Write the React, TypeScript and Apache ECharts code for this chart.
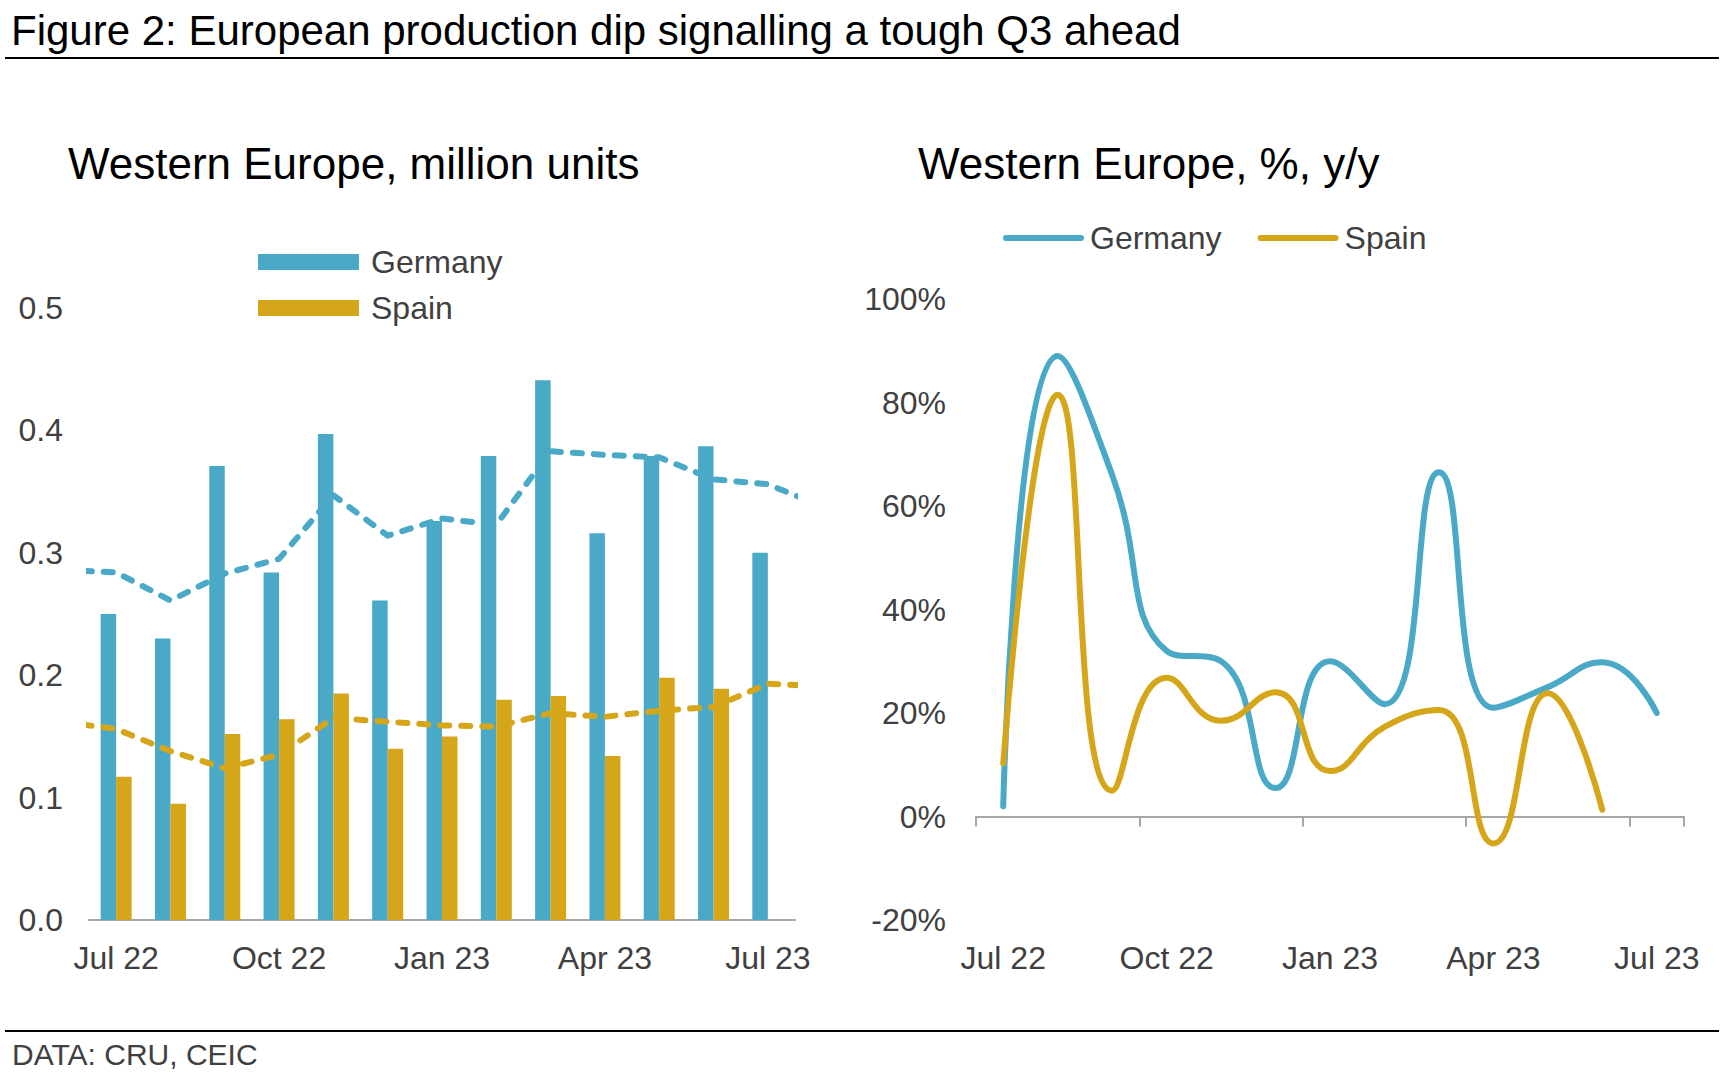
import React, { useEffect, useRef } from 'react';
import * as echarts from 'echarts';

// ---------- data ----------
const months = ['Jul 22', 'Aug 22', 'Sep 22', 'Oct 22', 'Nov 22', 'Dec 22', 'Jan 23', 'Feb 23', 'Mar 23', 'Apr 23', 'May 23', 'Jun 23', 'Jul 23'];

// million units (bars)
const germanyUnits = [0.250, 0.230, 0.371, 0.284, 0.397, 0.261, 0.326, 0.379, 0.441, 0.316, 0.379, 0.387, 0.300];
const spainUnits = [0.117, 0.095, 0.152, 0.164, 0.185, 0.140, 0.150, 0.180, 0.183, 0.134, 0.198, 0.189];

// moving averages (dashed), Jun 22 .. Aug 23 (first and last fall outside the axis and are clipped)
const avgMonths = ['Jun 22', ...months, 'Aug 23'];
const germanyAvg = [0.286, 0.284, 0.261, 0.283, 0.295, 0.347, 0.314, 0.328, 0.323, 0.383, 0.380, 0.378, 0.360, 0.356, 0.338];
const spainAvg = [0.162, 0.156, 0.138, 0.124, 0.135, 0.165, 0.162, 0.159, 0.158, 0.169, 0.166, 0.171, 0.174, 0.193, 0.191];

// % y/y
const germanyYoY = [2, 89, 66, 32, 30, 5.5, 30, 21.7, 66.5, 21, 25, 29.8, 20];
const spainYoY = [10.3, 81.5, 5, 26.8, 18.5, 24, 8.8, 17.3, 20.6, -5.2, 23.8, 1.3];

const unitTicks = [0, 0.1, 0.2, 0.3, 0.4, 0.5];
const pctTicks = [-20, 0, 20, 40, 60, 80, 100];

// ---------- styles ----------
const FONT = '"Liberation Sans", Arial, Helvetica, sans-serif';
const BLUE = '#4AA9C7';
const GOLD = '#D6A61A';
const TEXT = '#404040';
const AXIS = '#A6A6A6';
const CAPSULE = 'path://M3,0 L78,0 A3,3 0 0 1 78,6 L3,6 A3,3 0 0 1 3,0 Z';

const labelStyle = { fontFamily: FONT, fontSize: 32, color: TEXT };

const RIGHT_GRID = { left: 976, top: 299, width: 708, height: 621 };

function buildOption() {
  const avgX = (k: number) => k - 0.5; // Jun 22 sits half a month before the axis start
  const pMin = pctTicks[0];
  const pMax = pctTicks[pctTicks.length - 1];
  // lift the right chart's category axis from the grid bottom up to the 0% level
  const zeroLift = (RIGHT_GRID.height * (0 - pMin)) / (pMax - pMin);
  return {
    animation: false,
    backgroundColor: '#ffffff',
    textStyle: { fontFamily: FONT },
    graphic: [
      { type: 'text', x: 11, y: 30, style: { text: 'Figure 2: European production dip signalling a tough Q3 ahead', fontFamily: FONT, fontSize: 42, fill: '#000', verticalAlign: 'middle' } },
      { type: 'line', shape: { x1: 5, y1: 58, x2: 1719, y2: 58 }, style: { stroke: '#000', lineWidth: 2 } },
      { type: 'text', x: 68, y: 163, style: { text: 'Western Europe, million units', fontFamily: FONT, fontSize: 44, fill: '#000', verticalAlign: 'middle' } },
      { type: 'text', x: 918, y: 163, style: { text: 'Western Europe, %, y/y', fontFamily: FONT, fontSize: 44, fill: '#000', verticalAlign: 'middle' } },
      { type: 'line', shape: { x1: 5, y1: 1031, x2: 1719, y2: 1031 }, style: { stroke: '#000', lineWidth: 2 } },
      { type: 'text', x: 12, y: 1054, style: { text: 'DATA: CRU, CEIC', fontFamily: FONT, fontSize: 30, fill: TEXT, verticalAlign: 'middle' } },
    ],
    legend: [
      {
        orient: 'vertical',
        left: 258,
        top: 246,
        padding: 0,
        itemWidth: 101,
        itemHeight: 16,
        itemGap: 14,
        icon: 'rect',
        data: ['Germany', 'Spain'],
        textStyle: { ...labelStyle, lineHeight: 32, padding: [0, 0, 0, 7] },
      },
      {
        orient: 'horizontal',
        left: 1003,
        top: 222,
        padding: 0,
        itemWidth: 81,
        itemHeight: 6,
        itemGap: 36,
        icon: CAPSULE,
        data: ['Germany y/y', 'Spain y/y'],
        formatter: (n: string) => n.replace(' y/y', ''),
        textStyle: { ...labelStyle, lineHeight: 32, padding: [0, 0, 0, 1] },
      },
    ],
    grid: [
      { left: 89, top: 308, width: 706, height: 612 },
      RIGHT_GRID,
    ],
    xAxis: [
      {
        gridIndex: 0,
        type: 'category',
        data: months,
        boundaryGap: true,
        axisLine: { lineStyle: { color: AXIS, width: 2 } },
        axisTick: { interval: 2, length: 10, lineStyle: { color: AXIS, width: 2 } },
        axisLabel: { ...labelStyle, interval: 2, margin: 22 },
        splitLine: { show: false },
      },
      { gridIndex: 0, type: 'value', min: 0, max: 13, show: false },
      {
        gridIndex: 1,
        type: 'category',
        data: months,
        boundaryGap: true,
        position: 'bottom',
        offset: -zeroLift,
        axisLine: { show: true, onZero: false, lineStyle: { color: AXIS, width: 2 } },
        axisTick: { show: true, interval: 2, length: 10, lineStyle: { color: AXIS, width: 2 } },
        axisLabel: { ...labelStyle, interval: 2, margin: 22 + zeroLift },
        splitLine: { show: false },
      },
    ],
    yAxis: [
      {
        gridIndex: 0,
        type: 'value',
        min: unitTicks[0],
        max: unitTicks[unitTicks.length - 1],
        interval: 0.1,
        axisLine: { show: false },
        axisTick: { show: false },
        splitLine: { show: false },
        axisLabel: { ...labelStyle, margin: 26, formatter: (v: number) => v.toFixed(1) },
      },
      {
        gridIndex: 1,
        type: 'value',
        min: pMin,
        max: pMax,
        interval: 20,
        axisLine: { show: false },
        axisTick: { show: false },
        splitLine: { show: false },
        axisLabel: { ...labelStyle, margin: 30, formatter: '{value}%' },
      },
    ],
    series: [
      {
        name: 'Germany',
        type: 'bar',
        xAxisIndex: 0,
        yAxisIndex: 0,
        data: germanyUnits,
        barWidth: 15.5,
        barGap: '0%',
        itemStyle: { color: BLUE },
      },
      {
        name: 'Spain',
        type: 'bar',
        xAxisIndex: 0,
        yAxisIndex: 0,
        data: spainUnits,
        barWidth: 15.5,
        barGap: '0%',
        itemStyle: { color: GOLD },
      },
      {
        name: 'Germany average',
        type: 'line',
        xAxisIndex: 1,
        yAxisIndex: 0,
        data: germanyAvg.map((v, k) => [avgX(k), v]),
        symbol: 'none',
        clip: true,
        lineStyle: { color: BLUE, width: 6, type: [9, 12], cap: 'round', join: 'round' },
        z: 3,
      },
      {
        name: 'Spain average',
        type: 'line',
        xAxisIndex: 1,
        yAxisIndex: 0,
        data: spainAvg.map((v, k) => [avgX(k), v]),
        symbol: 'none',
        clip: true,
        lineStyle: { color: GOLD, width: 6, type: [9, 12], cap: 'round', join: 'round' },
        z: 3,
      },
      {
        name: 'Germany y/y',
        type: 'line',
        xAxisIndex: 2,
        yAxisIndex: 1,
        data: germanyYoY,
        smooth: 0.5,
        symbol: 'none',
        itemStyle: { color: BLUE },
        lineStyle: { color: BLUE, width: 6, cap: 'round', join: 'round' },
        z: 3,
      },
      {
        name: 'Spain y/y',
        type: 'line',
        xAxisIndex: 2,
        yAxisIndex: 1,
        data: spainYoY,
        smooth: 0.5,
        symbol: 'none',
        itemStyle: { color: GOLD },
        lineStyle: { color: GOLD, width: 6, cap: 'round', join: 'round' },
        z: 3,
      },
    ],
  };
}

export default function App() {
  const ref = useRef<HTMLDivElement>(null);
  useEffect(() => {
    if (!ref.current) return;
    const chart = echarts.init(ref.current, null, { renderer: 'svg' });
    chart.setOption(buildOption() as any);
    return () => chart.dispose();
  }, []);
  return (
    <div
      ref={ref}
      style={{ position: 'fixed', left: 0, top: 0, width: 1724, height: 1078, background: '#ffffff' }}
    />
  );
}
